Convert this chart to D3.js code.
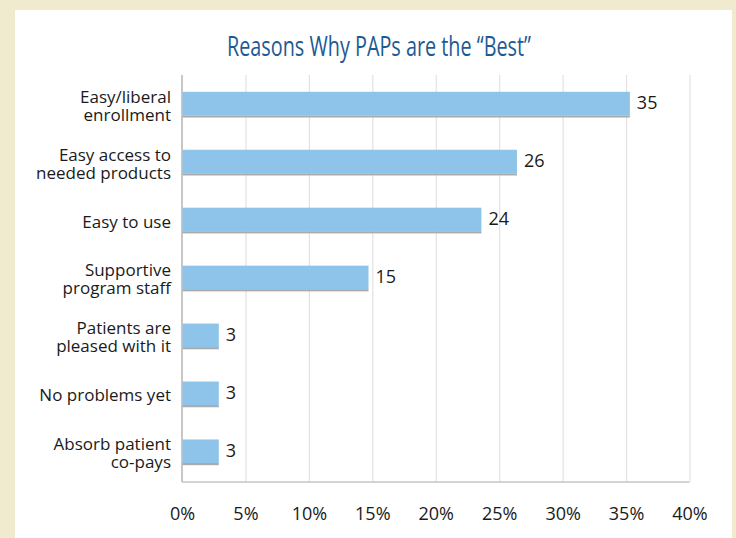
<!DOCTYPE html>
<html>
<head>
<meta charset="utf-8">
<script src="https://cdn.jsdelivr.net/npm/d3@7"></script>
<style>
  html, body { margin: 0; padding: 0; background: #f0eacf; }
  svg { display: block; }
</style>
</head>
<body>
<svg id="chart" width="736" height="538"></svg>
<script>
// ---- data ----
const title = "Reasons Why PAPs are the \u201CBest\u201D";
const categories = [
  ["Easy/liberal", "enrollment"],
  ["Easy access to", "needed products"],
  ["Easy to use"],
  ["Supportive", "program staff"],
  ["Patients are", "pleased with it"],
  ["No problems yet"],
  ["Absorb patient", "co-pays"]
];
const barValues = [35.3, 26.4, 23.6, 14.7, 2.9, 2.9, 2.9];
const valueLabels = ["35", "26", "24", "15", "3", "3", "3"];
const tickValues = [0, 5, 10, 15, 20, 25, 30, 35, 40];

// ---- layout ----
const W = 736, H = 538;
const plot = { left: 182, right: 689.5, top: 75, bottom: 482 };
const svg = d3.select("#chart");

svg.append("rect").attr("x", 0).attr("y", 0).attr("width", W).attr("height", H).attr("fill", "#f0eacf");
svg.append("rect").attr("x", 15).attr("y", 10).attr("width", 717).attr("height", 528).attr("fill", "#ffffff");

const ids = categories.map((c, i) => i);
const x = d3.scaleLinear().domain([0, 40]).range([plot.left, plot.right]);
const y = d3.scaleBand().domain(ids).range([plot.top, plot.bottom]).paddingInner(0.556).paddingOuter(0.29);

// title
svg.append("text")
  .attr("x", 379).attr("y", 56)
  .attr("text-anchor", "middle")
  .attr("font-family", "'Open Sans', 'Noto Sans', sans-serif")
  .attr("font-size", 28)
  .attr("fill", "#1d5a94")
  .attr("textLength", 304)
  .attr("lengthAdjust", "spacingAndGlyphs")
  .text(title);

// gridlines + tick labels via axis
const xAxis = d3.axisBottom(x)
  .tickValues(tickValues)
  .tickFormat(d => d + "%")
  .tickSizeInner(-(plot.bottom - plot.top))
  .tickSizeOuter(0)
  .tickPadding(25);

const gx = svg.append("g").attr("transform", `translate(0,${plot.bottom})`).call(xAxis);
gx.select(".domain").remove();
gx.selectAll(".tick line").attr("stroke", "#e2e2e2").attr("stroke-width", 1.2);
gx.selectAll(".tick:first-of-type line").remove();
gx.selectAll(".tick text")
  .attr("font-family", "'Open Sans', 'Noto Sans', sans-serif")
  .attr("font-size", 18)
  .attr("fill", "#1a1a1a");

// axis lines
svg.append("line").attr("x1", plot.left).attr("x2", plot.right)
  .attr("y1", plot.bottom).attr("y2", plot.bottom)
  .attr("stroke", "#c4c4c4").attr("stroke-width", 1.5);
svg.append("line").attr("x1", plot.left).attr("x2", plot.left)
  .attr("y1", plot.top).attr("y2", plot.bottom)
  .attr("stroke", "#b5b5b5").attr("stroke-width", 1.5);

// bars
const bw = y.bandwidth();
const shadowH = 2.2;
const bars = svg.append("g");
bars.selectAll("rect.shadow").data(ids).join("rect")
  .attr("class", "shadow")
  .attr("x", x(0) + 0.5)
  .attr("y", i => y(i) + bw - shadowH)
  .attr("width", i => x(barValues[i]) - x(0) - 0.5)
  .attr("height", shadowH)
  .attr("fill", "#a9abad");
bars.selectAll("rect.bar").data(ids).join("rect")
  .attr("class", "bar")
  .attr("x", x(0) + 0.5)
  .attr("y", i => y(i))
  .attr("width", i => x(barValues[i]) - x(0) - 0.5)
  .attr("height", bw - shadowH)
  .attr("fill", "#8ec3ea");

// value labels
svg.append("g").selectAll("text").data(ids).join("text")
  .attr("x", i => x(barValues[i]) + 7)
  .attr("y", i => y(i) + (bw - shadowH) / 2 - 1)
  .attr("dy", "0.35em")
  .attr("font-family", "'Open Sans', 'Noto Sans', sans-serif")
  .attr("font-size", 18)
  .attr("fill", "#1a1a1a")
  .text(i => valueLabels[i]);

// category labels
const lineH = 18;
const catG = svg.append("g");
ids.forEach(i => {
  const lines = categories[i];
  const cy = y(i) + bw / 2 + 1;
  const t = catG.append("text")
    .attr("text-anchor", "end")
    .attr("font-family", "'Open Sans', 'Noto Sans', sans-serif")
    .attr("font-size", 17)
    .attr("fill", "#1a1a1a");
  lines.forEach((ln, k) => {
    t.append("tspan")
      .attr("x", 171)
      .attr("y", cy + (k - (lines.length - 1) / 2) * lineH)
      .attr("dy", "0.35em")
      .text(ln);
  });
});
</script>
</body>
</html>
